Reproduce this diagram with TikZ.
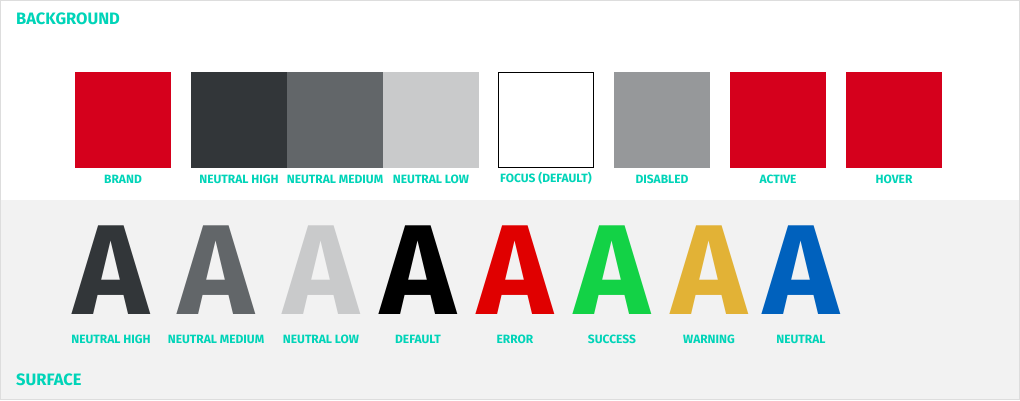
\documentclass[tikz,border=0pt]{standalone}
\usepackage{fontspec}
\setmainfont{Fira Sans}
\usetikzlibrary{positioning}

\definecolor{labelteal}{HTML}{00D4B8}
\definecolor{brandred}{HTML}{D5001C}
\definecolor{nhigh}{HTML}{323639}
\definecolor{nmedium}{HTML}{626669}
\definecolor{nlow}{HTML}{C9CACB}
\definecolor{disabledgray}{HTML}{96989A}
\definecolor{errorred}{HTML}{E00000}
\definecolor{successgreen}{HTML}{13D246}
\definecolor{warningyellow}{HTML}{E2B236}
\definecolor{neutralblue}{HTML}{0061BD}
\definecolor{surfacegray}{HTML}{F2F2F2}
\definecolor{framegray}{HTML}{DDDDDD}

\begin{document}
\begin{tikzpicture}[
    x=1pt, y=1pt,
    swatch/.style={
      rectangle, minimum size=96pt, inner sep=0pt, outer sep=0pt
    },
    swatchlbl/.style={
      font=\bfseries\fontsize{12}{13}\selectfont, text=labelteal,
      inner sep=0pt, anchor=base
    },
    sectiontitle/.style={
      font=\bfseries\fontsize{16.5}{18}\selectfont, text=labelteal,
      inner sep=0pt, anchor=base west
    },
    glyph/.style={
      font=\bfseries\fontsize{128}{128}\selectfont, inner sep=0pt, anchor=base
    },
]

% ===== BACKGROUND / SURFACE AREAS =====
\fill[white] (0, 200) rectangle (1020, 400);
\fill[surfacegray] (0, 0) rectangle (1020, 200);
\draw[framegray, line width=1pt] (0.5, 0.5) rectangle (1019.5, 399.5);

% ===== SECTION TITLES =====
\node[sectiontitle] (bgTitle) at (16, 375) {BACKGROUND};
\node[sectiontitle] (sfTitle) at (16, 15) {SURFACE};

% ===== BACKGROUND SWATCHES =====
\node[swatch, fill=brandred] (brand) at (123, 280) {};
\node[swatch, fill=nhigh] (nhigh) at (239, 280) {};
\node[swatch, fill=nmedium, right=0pt of nhigh] (nmedium) {};
\node[swatch, fill=nlow, right=0pt of nmedium] (nlow) {};
\node[swatch, fill=white, draw=black, line width=1pt, minimum size=95pt] (focus) at (546, 280) {};
\node[swatch, fill=disabledgray] (disabled) at (662, 280) {};
\node[swatch, fill=brandred] (active) at (778, 280) {};
\node[swatch, fill=brandred] (hover) at (894, 280) {};

\node[swatchlbl] (brandLbl) at ([yshift=-15pt]brand.south) {BRAND};
\node[swatchlbl] (nhighLbl) at ([yshift=-15pt]nhigh.south) {NEUTRAL HIGH};
\node[swatchlbl] (nmediumLbl) at ([yshift=-15pt]nmedium.south) {NEUTRAL MEDIUM};
\node[swatchlbl] (nlowLbl) at ([yshift=-15pt]nlow.south) {NEUTRAL LOW};
\node[swatchlbl] (focusLbl) at ([yshift=-15pt]focus.south) {FOCUS (DEFAULT)};
\node[swatchlbl] (disabledLbl) at ([yshift=-15pt]disabled.south) {DISABLED};
\node[swatchlbl] (activeLbl) at ([yshift=-15pt]active.south) {ACTIVE};
\node[swatchlbl] (hoverLbl) at ([yshift=-15pt]hover.south) {HOVER};

% ===== SURFACE TEXT COLOURS =====
\node[glyph, text=nhigh] (txtHigh) at (111, 86) {A};
\node[glyph, text=nmedium] (txtMedium) at (216, 86) {A};
\node[glyph, text=nlow] (txtLow) at (321, 86) {A};
\node[glyph, text=black] (txtDefault) at (418, 86) {A};
\node[glyph, text=errorred] (txtError) at (515, 86) {A};
\node[glyph, text=successgreen] (txtSuccess) at (612, 86) {A};
\node[glyph, text=warningyellow] (txtWarning) at (709, 86) {A};
\node[glyph, text=neutralblue] (txtNeutral) at (801, 86) {A};

\node[swatchlbl] (txtHighLbl) at ([yshift=-29pt]txtHigh.base) {NEUTRAL HIGH};
\node[swatchlbl] (txtMediumLbl) at ([yshift=-29pt]txtMedium.base) {NEUTRAL MEDIUM};
\node[swatchlbl] (txtLowLbl) at ([yshift=-29pt]txtLow.base) {NEUTRAL LOW};
\node[swatchlbl] (txtDefaultLbl) at ([yshift=-29pt]txtDefault.base) {DEFAULT};
\node[swatchlbl] (txtErrorLbl) at ([yshift=-29pt]txtError.base) {ERROR};
\node[swatchlbl] (txtSuccessLbl) at ([yshift=-29pt]txtSuccess.base) {SUCCESS};
\node[swatchlbl] (txtWarningLbl) at ([yshift=-29pt]txtWarning.base) {WARNING};
\node[swatchlbl] (txtNeutralLbl) at ([yshift=-29pt]txtNeutral.base) {NEUTRAL};

\end{tikzpicture}
\end{document}
